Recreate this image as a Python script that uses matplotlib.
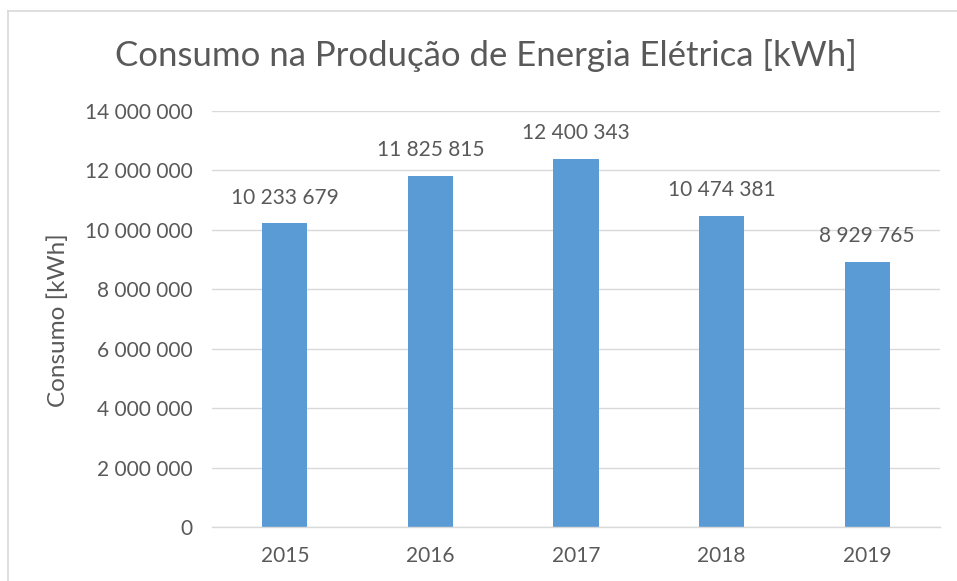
import matplotlib
matplotlib.use("Agg")
import matplotlib.pyplot as plt
from matplotlib.lines import Line2D

years = ["2015", "2016", "2017", "2018", "2019"]
values = [10233679, 11825815, 12400343, 10474381, 8929765]
yticks = [0, 2000000, 4000000, 6000000, 8000000, 10000000, 12000000, 14000000]

def fmt(v):
    return f"{v:,}".replace(",", " ")

plt.rcParams['font.family'] = ['Lato', 'DejaVu Sans']
txt = '#595959'
grid = '#D9D9D9'

fig = plt.figure(figsize=(9.57, 5.81), dpi=100)
ax = fig.add_axes([212/957, 1-527/581, (940-212)/957, (527-111)/581])

x = list(range(len(years)))
bars = ax.bar(x, values, width=0.31, color='#5B9BD5', zorder=3)
ax.set_xlim(-0.5, len(years)-0.5)
ax.set_ylim(0, 14000000)
ax.set_yticks(yticks)
ax.set_yticklabels([fmt(v) for v in yticks])
ax.set_xticks(x)
ax.set_xticklabels(years)
ax.tick_params(axis='both', length=0, labelsize=15, colors=txt)
ax.tick_params(axis='y', pad=14)
ax.tick_params(axis='x', pad=14)
ax.grid(axis='y', color=grid, linewidth=1, zorder=0)
for s in ['top', 'right', 'left']:
    ax.spines[s].set_visible(False)
ax.spines['bottom'].set_color(grid)
ax.spines['bottom'].set_linewidth(1)
ax.spines['bottom'].set_zorder(4)

for xi, v in zip(x, values):
    ax.annotate(fmt(v), (xi, v), xytext=(0, 11), textcoords='offset points',
                ha='center', va='bottom', fontsize=15, color=txt)

fig.text(58/957, 1-320/581, "Consumo [kWh]", rotation=90, ha='center', va='center',
         fontsize=17.5, color=txt)
fig.text(486/957, 1-55/581, "Consumo na Produção de Energia Elétrica [kWh]",
         ha='center', va='center', fontsize=25, color=txt)

fig.add_artist(Line2D([8/957, 1], [1-11/581, 1-11/581], color=grid, lw=1.2, transform=fig.transFigure))
fig.add_artist(Line2D([8/957, 8/957], [0, 1-11/581], color=grid, lw=1.2, transform=fig.transFigure))

fig.savefig("out.png", dpi=100)
